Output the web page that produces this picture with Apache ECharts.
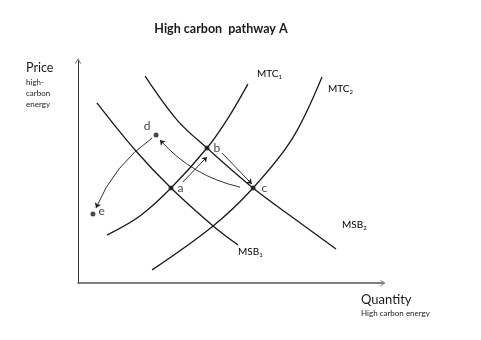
<!DOCTYPE html>
<html>
<head>
<meta charset="utf-8">
<script src="https://cdn.jsdelivr.net/npm/echarts@6/dist/echarts.min.js"></script>
<style>
  html, body { margin: 0; padding: 0; background: #fff; }
  #chart { width: 481px; height: 340px; }
</style>
</head>
<body>
<div id="chart"></div>
<script>
// Quantity (x) and price (y) of high-carbon energy, both on a 0–100 index scale.
const msb1 = [[6.2, 81.1], [18.7, 59.9], [30.5, 42.8], [44.3, 25.7], [52.5, 17.1]];
const msb2 = [[22.0, 93.2], [32.5, 73.4], [42.3, 60.8], [57.4, 42.8], [71.1, 28.8], [84.6, 15.3]];
const mtc1 = [[9.5, 21.6], [20.3, 30.2], [30.5, 42.8], [42.3, 60.8], [49.2, 74.3], [55.7, 89.6]];
const mtc2 = [[24.3, 5.9], [44.3, 25.7], [57.4, 42.8], [70.2, 64.9], [80.0, 92.8]];

// Equilibrium points
const pointNames = ['a', 'b', 'c', 'd', 'e'];
const pointX = [30.5, 42.3, 57.4, 25.6, 4.9];
const pointY = [42.8, 60.8, 42.8, 66.7, 31.1];

// Movements between points: start, end and how much the path bends
const moveFrom = [[34.4, 45.5], [47.2, 58.6], [53.1, 43.2], [24.3, 65.3]];
const moveTo = [[42.3, 56.8], [57.0, 44.6], [26.9, 64.4], [5.9, 33.8]];
const moveBend = [0, 0, 0.16, -0.145];

const FONT = 'Lato, "Open Sans", sans-serif';
const INK = '#1a1a1a';

// thin open chevron used as axis arrow head
const chevron = 'path://M5,0 L10,8 L8.8,8 L5,1.9 L1.2,8 L0,8 Z';

const curveStyle = { color: INK, width: 1.3 };
function curve(name, data) {
  return {
    name, type: 'line', data, smooth: 0.35, symbol: 'none',
    lineStyle: curveStyle, silent: true, animation: false
  };
}

const chart = echarts.init(document.getElementById('chart'), null, { renderer: 'canvas' });

const labelStyle = (size) => ({ fontFamily: FONT, fontSize: size, fill: INK });
const subRich = {
  m: { fontFamily: FONT, fontSize: 10, color: INK },
  s: { fontFamily: FONT, fontSize: 6, color: INK, verticalAlign: 'bottom', padding: [6, 0, 0, 0] }
};

chart.setOption({
  animation: false,
  backgroundColor: '#fff',
  title: {
    text: 'High carbon  pathway A',
    left: 216, top: 17, textAlign: 'center',
    textStyle: { fontFamily: FONT, fontSize: 12.5, fontWeight: 'bold', color: INK }
  },
  grid: { left: 78, top: 61, right: 98, bottom: 57 },
  xAxis: {
    type: 'value', min: 0, max: 100,
    axisLine: { show: true, onZero: false, symbol: ['none', chevron], symbolSize: [7, 5],
      lineStyle: { color: '#555', width: 1.5 } },
    axisTick: { show: false }, axisLabel: { show: false }, splitLine: { show: false }
  },
  yAxis: {
    type: 'value', min: 0, max: 100,
    axisLine: { show: true, onZero: false, symbol: ['none', chevron], symbolSize: [7, 5],
      lineStyle: { color: '#333', width: 1 } },
    axisTick: { show: false }, axisLabel: { show: false }, splitLine: { show: false }
  },
  graphic: [
    { type: 'text', left: 26, top: 61, style: { text: 'Price', ...labelStyle(12.5) } },
    { type: 'text', left: 26, top: 77, style: { text: 'high-\ncarbon\nenergy', ...labelStyle(8), lineHeight: 11 } },
    { type: 'text', left: 361, top: 293, style: { text: 'Quantity', ...labelStyle(13) } },
    { type: 'text', left: 361, top: 309, style: { text: 'High carbon energy', ...labelStyle(8) } },
    { type: 'text', left: 257, top: 69, style: { text: '{m|MTC}{s|1}', rich: subRich } },
    { type: 'text', left: 328, top: 84, style: { text: '{m|MTC}{s|2}', rich: subRich } },
    { type: 'text', left: 238, top: 247, style: { text: '{m|MSB}{s|1}', rich: subRich } },
    { type: 'text', left: 342, top: 220, style: { text: '{m|MSB}{s|2}', rich: subRich } }
  ],
  series: [
    curve('MSB1', msb1),
    curve('MSB2', msb2),
    curve('MTC1', mtc1),
    curve('MTC2', mtc2),
    {
      name: 'moves', type: 'lines', coordinateSystem: 'cartesian2d', silent: true,
      symbol: ['none', 'arrow'], symbolSize: 5,
      lineStyle: { color: INK, width: 0.9, opacity: 1 },
      data: moveFrom.map((f, i) => ({ coords: [f, moveTo[i]], lineStyle: { curveness: moveBend[i] } }))
    },
    {
      name: 'points', type: 'scatter', symbol: 'circle', symbolSize: 5, silent: true,
      itemStyle: { color: INK },
      data: pointNames.map((n, i) => {
        const item = { name: n, value: [pointX[i], pointY[i]] };
        if (n === 'd') item.label = { position: 'top', distance: 0, offset: [-9, 0] };
        if (n === 'e') item.label = { position: 'right', distance: 3, offset: [0, -3] };
        if (n === 'c') item.label = { position: 'right', distance: 6 };
        return item;
      }),
      label: {
        show: true, position: 'right', distance: 4,
        formatter: '{b}', fontFamily: FONT, fontSize: 12, color: '#111'
      }
    }
  ]
});
</script>
</body>
</html>
